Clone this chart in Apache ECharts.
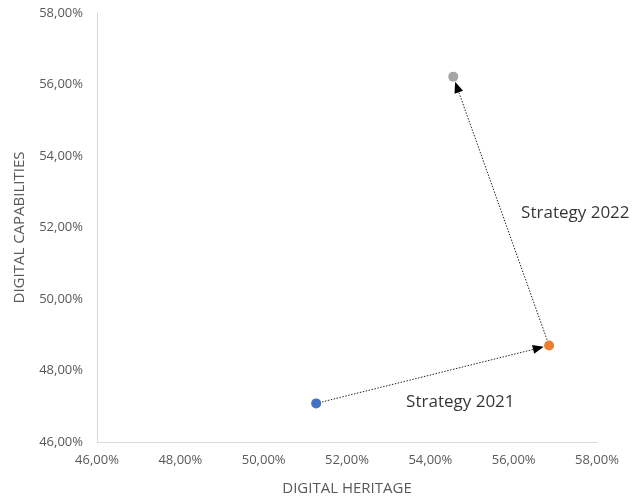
<!DOCTYPE html>
<html>
<head>
<meta charset="utf-8">
<script src="https://cdn.jsdelivr.net/npm/echarts@6/dist/echarts.min.js"></script>
<style>
  html, body { margin: 0; padding: 0; background: #fff; }
  #chart { width: 634px; height: 501px; }
</style>
</head>
<body>
<div id="chart"></div>
<script>
// values in percent
const pointNames = ["2020", "2021", "2022"];
const heritage = [51.26, 56.85, 54.55];
const capabilities = [47.08, 48.70, 56.22];
const pointColors = ["#4472C4", "#ED7D31", "#A5A5A5"];

const annotationText = ["Strategy 2021", "Strategy 2022"];
const annotationX = [54.72, 57.48];
const annotationY = [47.11, 52.40];

const pct = (v) => v.toFixed(2).replace(".", ",") + "%";

const chart = echarts.init(document.getElementById("chart"));

// one arrow from each point to the next
const arrows = [];
for (let i = 0; i < heritage.length - 1; i++) {
  arrows.push([heritage[i], capabilities[i], heritage[i + 1], capabilities[i + 1]]);
}

function renderArrow(params, api) {
  const a = api.coord([api.value(0), api.value(1)]);
  const b = api.coord([api.value(2), api.value(3)]);
  const dx = b[0] - a[0];
  const dy = b[1] - a[1];
  const len = Math.sqrt(dx * dx + dy * dy);
  const ux = dx / len;
  const uy = dy / len;
  // stop the tip at the edge of the dot
  const tip = [b[0] - ux * 5.5, b[1] - uy * 5.5];
  const headLen = 11;
  const headHalf = 4.5;
  const base = [tip[0] - ux * headLen, tip[1] - uy * headLen];
  return {
    type: "group",
    children: [
      {
        type: "line",
        shape: { x1: a[0], y1: a[1], x2: base[0], y2: base[1] },
        style: { stroke: "#222", lineWidth: 1, lineDash: [1.5, 1.5] },
      },
      {
        type: "polygon",
        shape: {
          points: [
            tip,
            [base[0] - uy * headHalf, base[1] + ux * headHalf],
            [base[0] + uy * headHalf, base[1] - ux * headHalf],
          ],
        },
        style: { fill: "#000" },
      },
    ],
  };
}

const axisCommon = {
  type: "value",
  min: 46,
  max: 58,
  interval: 2,
  splitLine: { show: false },
  axisTick: { show: false },
  axisLine: { show: true, lineStyle: { color: "#d9d9d9", width: 1 } },
  axisLabel: {
    color: "#595959",
    fontSize: 13,
    fontFamily: "Open Sans",
    formatter: pct,
  },
  nameLocation: "middle",
  nameTextStyle: { color: "#595959", fontSize: 15, fontFamily: "Open Sans" },
};

chart.setOption({
  animation: false,
  grid: { left: 97, right: 37, top: 13, bottom: 58 },
  xAxis: Object.assign({}, axisCommon, {
    name: "DIGITAL HERITAGE",
    nameGap: 39,
    axisLabel: Object.assign({}, axisCommon.axisLabel, { margin: 12 }),
  }),
  yAxis: Object.assign({}, axisCommon, {
    name: "DIGITAL CAPABILITIES",
    nameGap: 70,
    axisLabel: Object.assign({}, axisCommon.axisLabel, { margin: 14 }),
  }),
  series: [
    {
      type: "custom",
      z: 1,
      silent: true,
      renderItem: renderArrow,
      encode: { x: [0, 2], y: [1, 3] },
      data: arrows,
    },
    {
      type: "scatter",
      z: 3,
      symbolSize: 10,
      data: heritage.map((x, i) => ({
        name: pointNames[i],
        value: [x, capabilities[i]],
        itemStyle: { color: pointColors[i], opacity: 1 },
      })),
    },
    {
      type: "scatter",
      symbolSize: 0,
      silent: true,
      label: {
        show: true,
        position: "inside",
        formatter: (p) => p.name,
        color: "#000",
        fontSize: 17,
        fontFamily: "Open Sans",
      },
      data: annotationText.map((t, i) => ({
        name: t,
        value: [annotationX[i], annotationY[i]],
      })),
    },
  ],
});
</script>
</body>
</html>
